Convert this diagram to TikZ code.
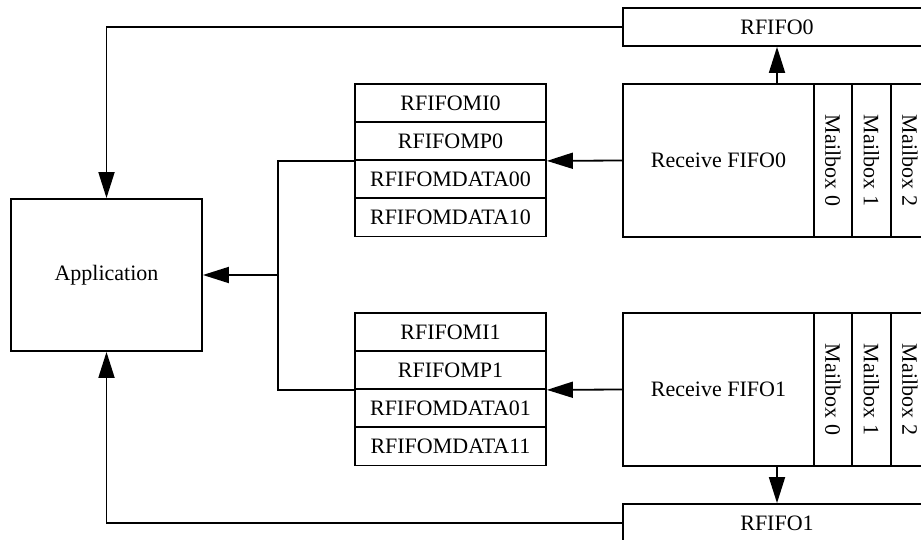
\documentclass[tikz,border=0pt]{standalone}
\usepackage{fontspec}
\setmainfont{Liberation Serif}
\usetikzlibrary{arrows.meta}

\begin{document}
\begin{tikzpicture}[x=1pt,y=-1pt,font=\fontsize{22}{26}\selectfont,line width=1.8pt,
    box/.style={draw,rectangle,inner sep=0pt},
    reg/.style={box,minimum width=191pt,minimum height=38pt},
    mbox/.style={box,rotate=-90,minimum width=153pt,minimum height=38pt},
    arr/.style={-{Triangle[length=26pt,width=16pt]}}]
        \useasboundingbox (0,0) rectangle (921,540);
        \node[box,minimum width=191pt,minimum height=152pt] (app) at (106.5,275) {Application};
        \node[box,minimum width=308pt,minimum height=38pt] (rfifo0) at (777,27) {RFIFO0};
        \node[box,minimum width=308pt,minimum height=38pt] (rfifo1) at (777,523) {RFIFO1};
        \node[box,minimum width=191pt,minimum height=153pt] (rx0) at (718.5,160.5) {Receive FIFO0};
        \node[box,minimum width=191pt,minimum height=153pt] (rx1) at (718.5,389.5) {Receive FIFO1};
        \foreach \j/\y in {0/160.5,1/389.5}
          \foreach \i/\x in {0/833,1/871.5,2/910}
            \node[mbox] (mb\j\i) at (\x,\y) {Mailbox \i};
        \node[reg] (mi0) at (450.5,103) {RFIFOMI0};
        \node[reg] (mp0) at (450.5,141) {RFIFOMP0};
        \node[reg] (md00) at (450.5,179) {RFIFOMDATA00};
        \node[reg] (md10) at (450.5,217.5) {RFIFOMDATA10};
        \node[reg] (mi1) at (450.5,332) {RFIFOMI1};
        \node[reg] (mp1) at (450.5,370) {RFIFOMP1};
        \node[reg] (md01) at (450.5,408) {RFIFOMDATA01};
        \node[reg] (md11) at (450.5,446.5) {RFIFOMDATA11};
        \coordinate (bus) at (278,275);
        \draw[arr] (rfifo0.south |- rx0.north) -- (rfifo0.south);
        \draw[arr] (rfifo1.north |- rx1.south) -- (rfifo1.north);
        \draw[arr] (rx0.west) -- (mp0.south east);
        \draw[arr] (rx1.west) -- (mp1.south east);
        \draw (mp0.south west) -| (bus) |- (mp1.south west);
        \draw[arr] (bus) -- (app.east);
        \draw[arr] (rfifo0.west) -| (app.north);
        \draw[arr] (rfifo1.west) -| (app.south);
\end{tikzpicture}
\end{document}
